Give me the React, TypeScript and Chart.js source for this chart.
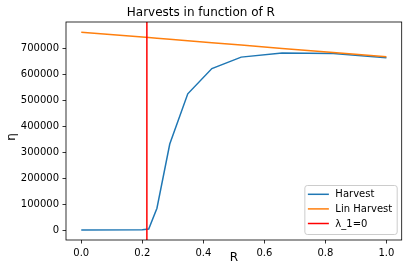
import React, { useEffect, useRef } from 'react';
import { Chart, registerables } from 'chart.js';

Chart.register(...registerables);

// ---- data ----
const rValues = [0, 0.2, 0.221, 0.248, 0.29, 0.349, 0.428, 0.524, 0.658, 0.826, 1.0];
const harvest = [0, 1000, 4000, 84000, 331000, 524000, 621000, 665000, 681000, 679000, 663000];
const linHarvest = [761000, 742000, 740000, 737400, 733450, 727850, 720300, 711200, 698500, 682500, 666000];
const lambdaZeroR = 0.215;

const seriesLabels = ['Harvest', 'Lin Harvest', 'λ_1=0'];
const seriesColors = ['#1f77b4', '#ff7f0e', '#ff0000'];

const xTicks = [0, 0.2, 0.4, 0.6, 0.8, 1.0];
const yTicks = [0, 100000, 200000, 300000, 400000, 500000, 600000, 700000];
const xRange = [-0.05, 1.05];
const yRange = [-38000, 800000];

const chartTitle = 'Harvests in function of R';
const xLabel = 'R';
const yLabel = 'η';

const FAMILY = "'DejaVu Sans', 'Liberation Sans', sans-serif";

export default function App() {
  const ref = useRef<HTMLCanvasElement>(null);

  useEffect(() => {
    document.body.style.margin = '0';
    const canvas = ref.current;
    if (!canvas) return;

    const framePlugin = {
      id: 'mplFrame',
      afterDatasetsDraw(chart: any) {
        const { ctx, chartArea: a } = chart;
        ctx.save();
        ctx.strokeStyle = '#000';
        ctx.lineWidth = 0.8;
        ctx.strokeRect(a.left, a.top, a.right - a.left, a.bottom - a.top);
        ctx.restore();
      },
    };

    const yLabelPlugin = {
      id: 'mplYLabel',
      afterDraw(chart: any) {
        const { ctx, chartArea: a } = chart;
        ctx.save();
        ctx.translate(11.5, (a.top + a.bottom) / 2 + 6);
        ctx.rotate(-Math.PI / 2);
        ctx.font = `12px ${FAMILY}`;
        ctx.fillStyle = '#000';
        ctx.textAlign = 'center';
        ctx.textBaseline = 'middle';
        ctx.fillText(yLabel, 0, 0);
        ctx.restore();
      },
    };

    const legendPlugin = {
      id: 'mplLegend',
      afterDraw(chart: any) {
        const { ctx, chartArea: a } = chart;
        const ds = chart.data.datasets;
        ctx.save();
        ctx.font = `10px ${FAMILY}`;
        const maxW = Math.max(...ds.map((d: any) => ctx.measureText(d.label).width));
        const hStart = 3, hLen = 21, gap = 6.5, padR = 5;
        const w = hStart + hLen + gap + maxW + padR;
        const h = 49;
        const right = a.right - 4.5;
        const bottom = a.bottom - 5.5;
        const left = right - w;
        const top = bottom - h;
        const r = 2.5;
        ctx.beginPath();
        ctx.moveTo(left + r, top);
        ctx.lineTo(right - r, top);
        ctx.quadraticCurveTo(right, top, right, top + r);
        ctx.lineTo(right, bottom - r);
        ctx.quadraticCurveTo(right, bottom, right - r, bottom);
        ctx.lineTo(left + r, bottom);
        ctx.quadraticCurveTo(left, bottom, left, bottom - r);
        ctx.lineTo(left, top + r);
        ctx.quadraticCurveTo(left, top, left + r, top);
        ctx.closePath();
        ctx.fillStyle = 'rgba(255,255,255,0.8)';
        ctx.fill();
        ctx.strokeStyle = '#cccccc';
        ctx.lineWidth = 1;
        ctx.stroke();
        ds.forEach((d: any, i: number) => {
          const y = top + 8.8 + i * 14.6;
          ctx.beginPath();
          ctx.moveTo(left + hStart, y);
          ctx.lineTo(left + hStart + hLen, y);
          ctx.strokeStyle = d.borderColor;
          ctx.lineWidth = 1.5;
          ctx.stroke();
          ctx.fillStyle = '#000';
          ctx.textBaseline = 'middle';
          ctx.textAlign = 'left';
          ctx.fillText(d.label, left + hStart + hLen + gap, y + 0.5);
        });
        ctx.restore();
      },
    };

    const tickFont = { family: FAMILY, size: 10 };
    const labelFont = { family: FAMILY, size: 12 };

    const chart = new Chart(canvas, {
      type: 'line',
      data: {
        datasets: [
          {
            label: seriesLabels[0],
            data: rValues.map((x, i) => ({ x, y: harvest[i] })),
            borderColor: seriesColors[0],
            backgroundColor: seriesColors[0],
            borderWidth: 1.5,
            pointRadius: 0,
            fill: false,
            order: 3,
          },
          {
            label: seriesLabels[1],
            data: rValues.map((x, i) => ({ x, y: linHarvest[i] })),
            borderColor: seriesColors[1],
            backgroundColor: seriesColors[1],
            borderWidth: 1.5,
            pointRadius: 0,
            fill: false,
            order: 2,
          },
          {
            label: seriesLabels[2],
            data: [
              { x: lambdaZeroR, y: yRange[0] },
              { x: lambdaZeroR, y: yRange[1] },
            ],
            borderColor: seriesColors[2],
            backgroundColor: seriesColors[2],
            borderWidth: 1.5,
            pointRadius: 0,
            fill: false,
            order: 1,
          },
        ],
      },
      options: {
        animation: false,
        responsive: false,
        devicePixelRatio: 1,
        layout: { padding: { left: 0, right: 6.3, top: 0, bottom: 0 } },
        elements: { line: { tension: 0 }, point: { radius: 0 } },
        plugins: {
          legend: { display: false },
          tooltip: { enabled: false },
          title: {
            display: true,
            text: chartTitle,
            color: '#000',
            font: { family: FAMILY, size: 12, weight: 'normal' },
            padding: { top: 5.3, bottom: 2.3 },
          },
        },
        scales: {
          x: {
            type: 'linear',
            min: xRange[0],
            max: xRange[1],
            afterBuildTicks: (s: any) => {
              s.ticks = xTicks.map((v) => ({ value: v }));
            },
            afterFit: (s: any) => {
              s.height = 38;
            },
            ticks: {
              autoSkip: false,
              maxRotation: 0,
              padding: 3.5,
              color: '#000',
              font: tickFont,
              callback: (v: any) => Number(v).toFixed(1),
            },
            grid: {
              drawOnChartArea: false,
              drawTicks: true,
              tickLength: 3.5,
              tickWidth: 0.8,
              tickColor: '#000',
            },
            border: { display: false },
            title: {
              display: true,
              text: xLabel,
              color: '#000',
              font: labelFont,
              padding: { top: 0, bottom: 13 },
            },
          },
          y: {
            type: 'linear',
            min: yRange[0],
            max: yRange[1],
            afterBuildTicks: (s: any) => {
              s.ticks = yTicks.map((v) => ({ value: v }));
            },
            afterFit: (s: any) => {
              s.width = 66;
            },
            ticks: {
              autoSkip: false,
              padding: 3.5,
              color: '#000',
              font: tickFont,
              callback: (v: any) => String(Math.round(Number(v))),
            },
            grid: {
              drawOnChartArea: false,
              drawTicks: true,
              tickLength: 3.5,
              tickWidth: 0.8,
              tickColor: '#000',
            },
            border: { display: false },
            title: { display: false },
          },
        },
      },
      plugins: [framePlugin, yLabelPlugin, legendPlugin],
    });

    return () => chart.destroy();
  }, []);

  return (
    <div style={{ position: 'absolute', left: 0, top: 0, width: 408, height: 278 }}>
      <canvas ref={ref} width={408} height={278} style={{ display: 'block', width: 408, height: 278 }} />
    </div>
  );
}
